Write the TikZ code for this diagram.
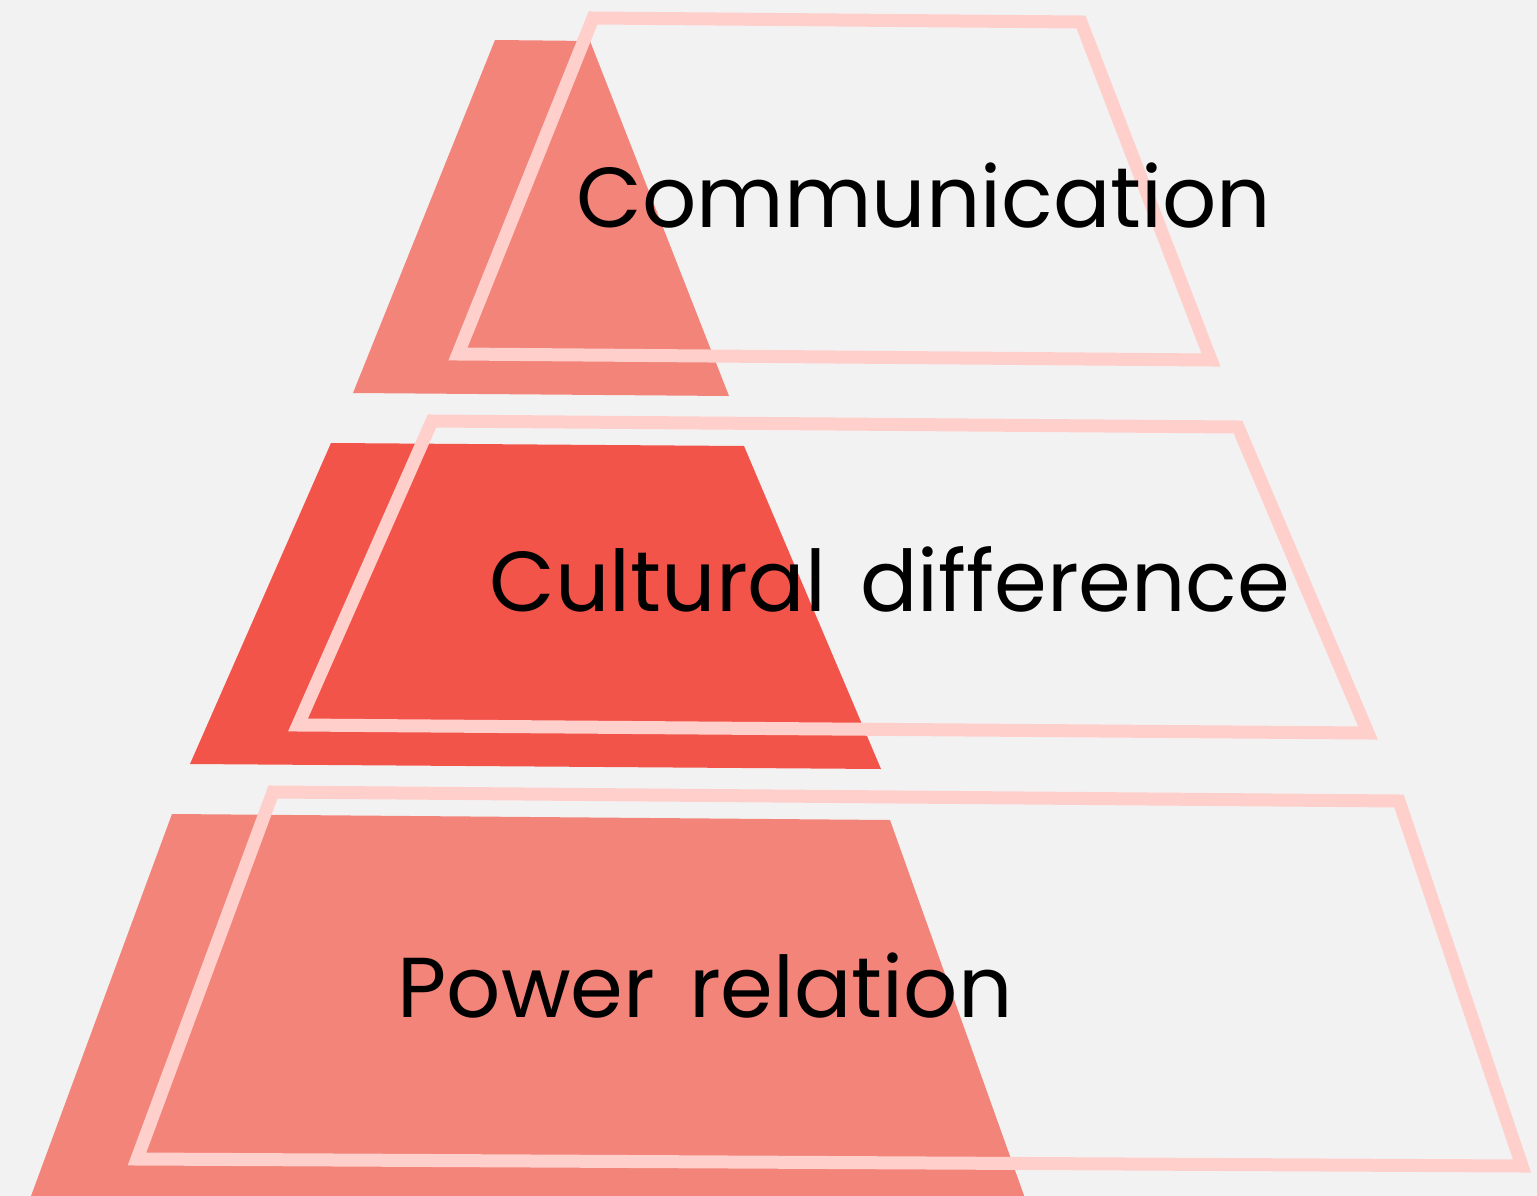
\documentclass[tikz,border=0pt]{standalone}
\usepackage{fontspec}
\setmainfont{Poppins}[WordSpace=1.5]
\definecolor{bg}{HTML}{F2F2F2}
\definecolor{salmon}{HTML}{F2847A}
\definecolor{redfill}{HTML}{F2544A}
\definecolor{pinkline}{HTML}{FFCFCB}
\tikzset{
  frame/.style={draw=pinkline, line width=13pt, line join=miter},
  label/.style={anchor=base, inner sep=0pt, font=\fontsize{85}{95}\selectfont, text=black}
}
\begin{document}
\begin{tikzpicture}[x=1pt,y=-1pt]
\useasboundingbox (0,0) rectangle (1537,1196);
\clip (0,0) rectangle (1537,1196);
\fill[bg] (0,0) rectangle (1537,1196);
% filled trapezoids
\fill[salmon] (353,393) -- (495,40) -- (590,41) -- (729,396) -- cycle;
\fill[redfill] (190,764) -- (331,443) -- (744,446) -- (881,769) -- cycle;
\fill[salmon] (24,1215) -- (172,814) -- (890,820) -- (1031,1215) -- cycle;
% outlines
\draw[frame] (593,18) -- (1081,22) -- (1211,360) -- (458,354) -- cycle;
\draw[frame] (432,421) -- (1238,427) -- (1368,733) -- (298,725) -- cycle;
\draw[frame] (273,792) -- (1399,801) -- (1522,1166) -- (137,1159) -- cycle;
% labels
\node[label] (comm) at (924,227) {Communication};
\node[label] (cult) at (890,611) {Cultural difference};
\node[label] (power) at (705,1017) {Power relation};
\end{tikzpicture}
\end{document}
